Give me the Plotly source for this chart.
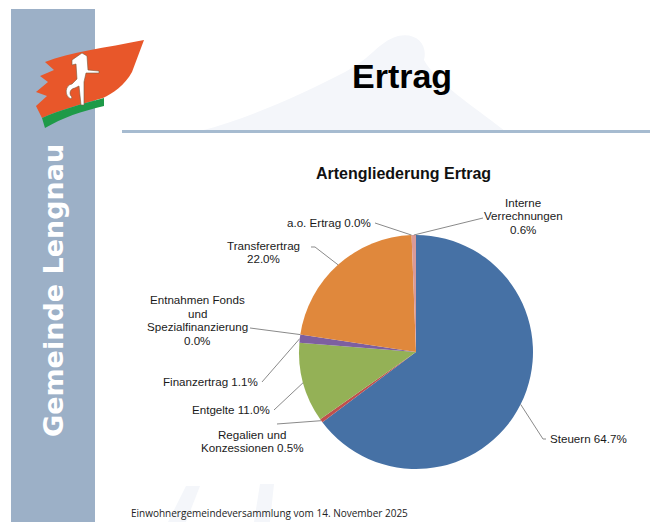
import math
import plotly.graph_objects as go

# ---------------- data ----------------
categories = ["Steuern", "Regalien und Konzessionen", "Entgelte", "Finanzertrag",
              "Entnahmen Fonds und Spezialfinanzierung", "Transferertrag",
              "a.o. Ertrag", "Interne Verrechnungen"]
shares = [64.7, 0.5, 11.0, 1.1, 0.0, 22.0, 0.0, 0.6]
# label lines (name split as in the chart); the percentage is appended from `shares`
label_lines = [["Steuern {p}"],
               ["Regalien und", "Konzessionen {p}"],
               ["Entgelte {p}"],
               ["Finanzertrag {p}"],
               ["Entnahmen Fonds", "und", "Spezialfinanzierung", "{p}"],
               ["Transferertrag", "{p}"],
               ["a.o. Ertrag {p}"],
               ["Interne", "Verrechnungen", "{p}"]]
slide_title = "Ertrag"
chart_title = "Artengliederung Ertrag"
side_text = "Gemeinde Lengnau"
footer_text = "Einwohnergemeindeversammlung vom 14. November 2025"

# ---------------- styles / layout ----------------
W, H = 650, 522
colors = ["#4671A5", "#C0504D", "#94B156", "#7D5FA0", "#4BACC6",
          "#E0883C", "#2C4D75", "#D99A98"]
CX, CY, R = 416, 352, 117          # pie centre / radius in px
LBL_FONT = dict(family="Liberation Sans, Arial, sans-serif", size=11.6, color="#1a1a1a")
LINE_H = 13.5
# label placement: (x, y_center, xanchor, leader start point, elbow)
label_pos = [
    (548, 438, "left",   (546, 439), (543, 439)),
    (251.5, 441, "center", (277, 424), None),
    (272, 409, "right",  (274, 410), None),
    (260, 381, "right",  (262, 382), None),
    (197, 320, "center", (250, 328), None),
    (263, 252, "center", (311, 247), (315, 247)),
    (373, 222, "right",  (375, 223), None),
    (523, 216, "center", (483, 218), None),
]


def px(x):
    return x / W


def py(y):
    return 1 - y / H


def path_px(pts_cmds):
    out = []
    for tok in pts_cmds.split():
        if "," in tok:
            a, b = tok.split(",")
            out.append(f"{px(float(a)):.5f},{py(float(b)):.5f}")
        else:
            out.append(tok)
    return " ".join(out)


fig = go.Figure()

fig.add_trace(go.Pie(
    labels=categories, values=shares, sort=False, direction="clockwise",
    rotation=0, marker=dict(colors=colors, line=dict(width=0)),
    textinfo="none", hoverinfo="label+percent", showlegend=False,
    domain=dict(x=[px(CX - R), px(CX + R)], y=[py(CY + R), py(CY - R)]),
))

shapes = []
annotations = []

# ---- sidebar ----
shapes.append(dict(type="rect", xref="paper", yref="paper", x0=px(11), x1=px(95),
                   y0=0, y1=py(9), fillcolor="#9CB0C7", line=dict(width=0), layer="below"))

# ---- faint watermark ----
wm = "#F4F6FA"
shapes.append(dict(type="path", xref="paper", yref="paper", layer="below",
                   path=path_px("M 200,131 C 250,118 300,95 345,72 C 372,58 378,42 398,36 "
                                "C 416,32 428,44 424,60 C 436,82 470,104 505,131 Z"),
                   fillcolor=wm, line=dict(width=0)))
shapes.append(dict(type="path", xref="paper", yref="paper", layer="below",
                   path=path_px("M 168,522 L 186,486 L 200,486 L 186,522 Z"),
                   fillcolor=wm, line=dict(width=0)))
shapes.append(dict(type="path", xref="paper", yref="paper", layer="below",
                   path=path_px("M 254,522 L 260,484 L 274,484 L 270,522 Z"),
                   fillcolor=wm, line=dict(width=0)))

# ---- logo ----
shapes.append(dict(type="path", xref="paper", yref="paper",
                   path=path_px("M 45,62 C 70,52 105,48 144,40 L 132,72 C 125,85 112,94 103,98 "
                                "C 82,104 60,110 42,118 L 36,106 L 47,96 L 36,92 L 48,82 L 40,76 L 54,70 Z"),
                   fillcolor="#E8572A", line=dict(width=0)))
shapes.append(dict(type="path", xref="paper", yref="paper",
                   path=path_px("M 42,118 C 60,110 82,104 104,98 L 104,106 C 82,111 62,118 45,128 Z"),
                   fillcolor="#1E9A48", line=dict(width=0)))
shapes.append(dict(type="path", xref="paper", yref="paper",
                   path=path_px("M 72,60 L 82,53 L 87,56 L 88,70 L 99,71 L 99,73 L 86,73 L 84,82 "
                                "L 84,105 L 81,105 L 79,86 L 75,88 C 69,89 69,95 72,97 L 71,99 "
                                "C 64,96 65,85 72,84 L 77,79 L 76,64 L 72,65 Z"),
                   fillcolor="white", line=dict(width=0.6, color="#7a5a3a")))

# ---- title rule ----
shapes.append(dict(type="line", xref="paper", yref="paper", x0=px(122), x1=1,
                   y0=py(131.5), y1=py(131.5), line=dict(color="#A6BBD0", width=3)))

# ---- leader lines (edge point from slice mid-angle) ----
total = sum(shares)
cum = 0.0
for i, v in enumerate(shares):
    mid = (cum + v / 2) / total
    cum += v
    th = 2 * math.pi * mid
    ex, ey = CX + R * math.sin(th), CY - R * math.cos(th)
    lx, ly, xa, start, elbow = label_pos[i]
    pts = [start]
    if elbow:
        pts.append(elbow)
    pts.append((ex, ey))
    d = "M " + " L ".join(f"{px(a):.5f},{py(b):.5f}" for a, b in pts)
    shapes.append(dict(type="path", xref="paper", yref="paper", path=d,
                       line=dict(color="#8a8a8a", width=1)))
    # label text, one annotation per line for tight spacing
    lines = [s.replace("{p}", f"{v:.1f}%") for s in label_lines[i]]
    n = len(lines)
    for k, t in enumerate(lines):
        yy = ly + (k - (n - 1) / 2) * LINE_H
        annotations.append(dict(x=px(lx), y=py(yy), xref="paper", yref="paper", text=t,
                                showarrow=False, xanchor=xa, yanchor="middle",
                                font=LBL_FONT))

# ---- texts ----
annotations.append(dict(x=px(402), y=py(76), xref="paper", yref="paper", text=f"<b>{slide_title}</b>",
                        showarrow=False, xanchor="center", yanchor="middle",
                        font=dict(family="Liberation Sans, Arial, sans-serif", size=34, color="#000")))
annotations.append(dict(x=px(403.5), y=py(173), xref="paper", yref="paper", text=f"<b>{chart_title}</b>",
                        showarrow=False, xanchor="center", yanchor="middle",
                        font=dict(family="Liberation Sans, Arial, sans-serif", size=16, color="#111")))
annotations.append(dict(x=px(53), y=py(291), xref="paper", yref="paper", text=f"<b>{side_text}</b>",
                        showarrow=False, xanchor="center", yanchor="middle", textangle=-90,
                        font=dict(family="DejaVu Sans, sans-serif", size=27, color="white")))
annotations.append(dict(x=px(129), y=py(513), xref="paper", yref="paper", text=footer_text,
                        showarrow=False, xanchor="left", yanchor="middle",
                        font=dict(family="Open Sans, sans-serif", size=10, color="#222")))

fig.update_layout(width=W, height=H, margin=dict(l=0, r=0, t=0, b=0),
                  paper_bgcolor="white", plot_bgcolor="white",
                  shapes=shapes, annotations=annotations)

fig.write_html("out.html", config={"displayModeBar": False},
               post_script="document.body.style.margin='0';document.body.style.overflow='hidden';")
